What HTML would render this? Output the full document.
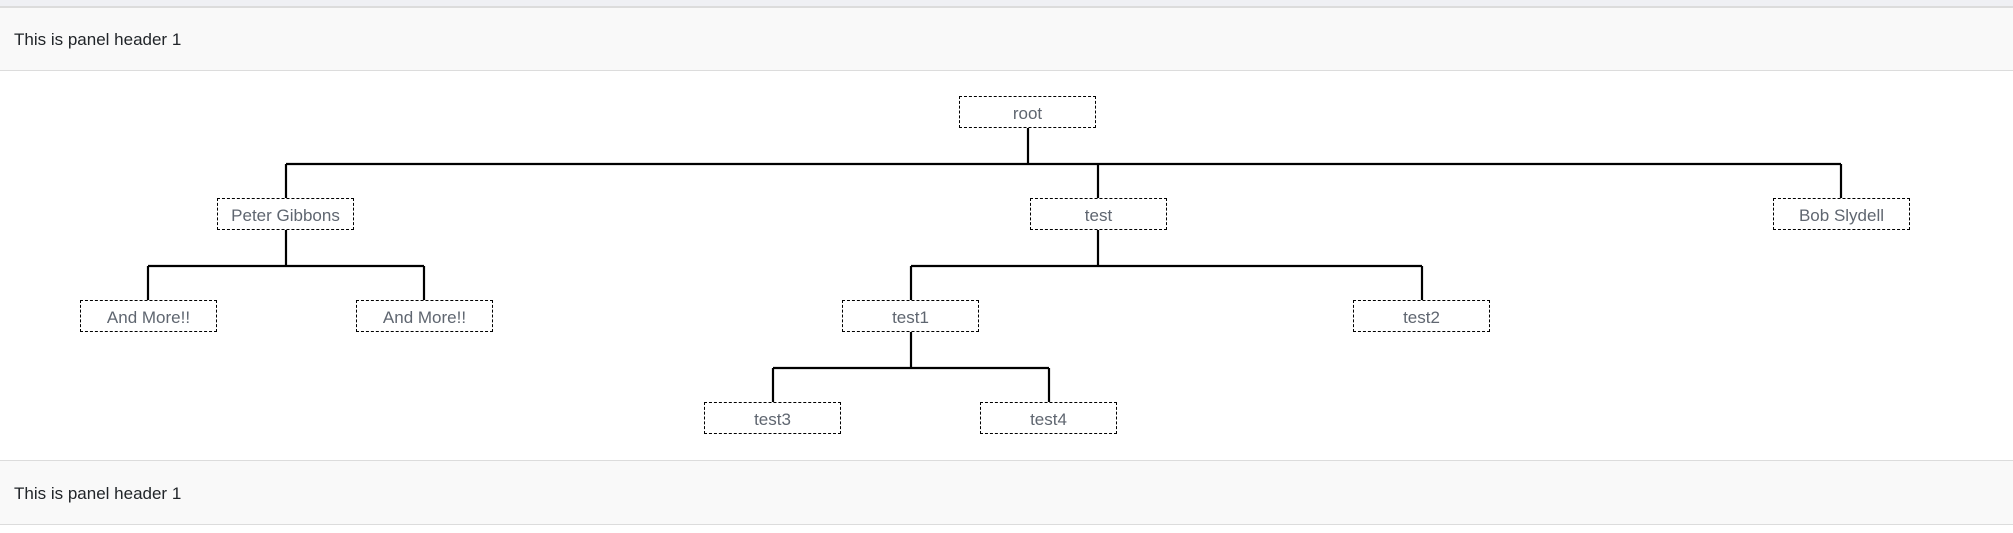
<!DOCTYPE html>
<html><head><meta charset="utf-8"><style>
html,body{margin:0;padding:0;width:2013px;height:533px;background:#fff;overflow:hidden;font-family:"Liberation Sans",sans-serif;position:relative}
.top{position:absolute;left:0;top:0;width:2013px;height:6px;background:#eff0f4;border-bottom:1px solid #dcdcdc}
.hdr{position:absolute;left:0;width:2013px;height:63px;background:#f9f9f9;border-top:1px solid #dcdcdc;border-bottom:1px solid #dcdcdc;box-sizing:border-box}
.hdr span{position:absolute;left:14px;top:22px;font-size:17px;color:#212529}
.n{position:absolute;width:137px;height:32px;box-sizing:border-box;border:1px dashed #000;background:#fff;text-align:center;line-height:33px;font-size:17px;color:#5f6670}
svg{position:absolute;left:0;top:0}
</style></head><body>
<div class="top"></div>
<div class="hdr" style="top:7px;height:64px"><span>This is panel header 1</span></div>
<div class="hdr" style="top:460px;height:65px"><span style="top:23px">This is panel header 1</span></div>
<svg width="2013" height="533" fill="none" stroke="#000" stroke-width="2.2">
<path d="M1028 128V164M286 164H1841M286 164V198M1098 164V198M1841 164V198"/>
<path d="M286 230V266M148 266H424M148 266V300M424 266V300"/>
<path d="M1098 230V266M911 266H1422M911 266V300M1422 266V300"/>
<path d="M911 332V368M773 368H1049M773 368V402M1049 368V402"/>
</svg>
<div class="n" style="left:959px;top:96px">root</div>
<div class="n" style="left:217px;top:198px">Peter Gibbons</div>
<div class="n" style="left:1030px;top:198px">test</div>
<div class="n" style="left:1773px;top:198px">Bob Slydell</div>
<div class="n" style="left:80px;top:300px">And More!!</div>
<div class="n" style="left:356px;top:300px">And More!!</div>
<div class="n" style="left:842px;top:300px">test1</div>
<div class="n" style="left:1353px;top:300px">test2</div>
<div class="n" style="left:704px;top:402px">test3</div>
<div class="n" style="left:980px;top:402px">test4</div>
</body></html>
